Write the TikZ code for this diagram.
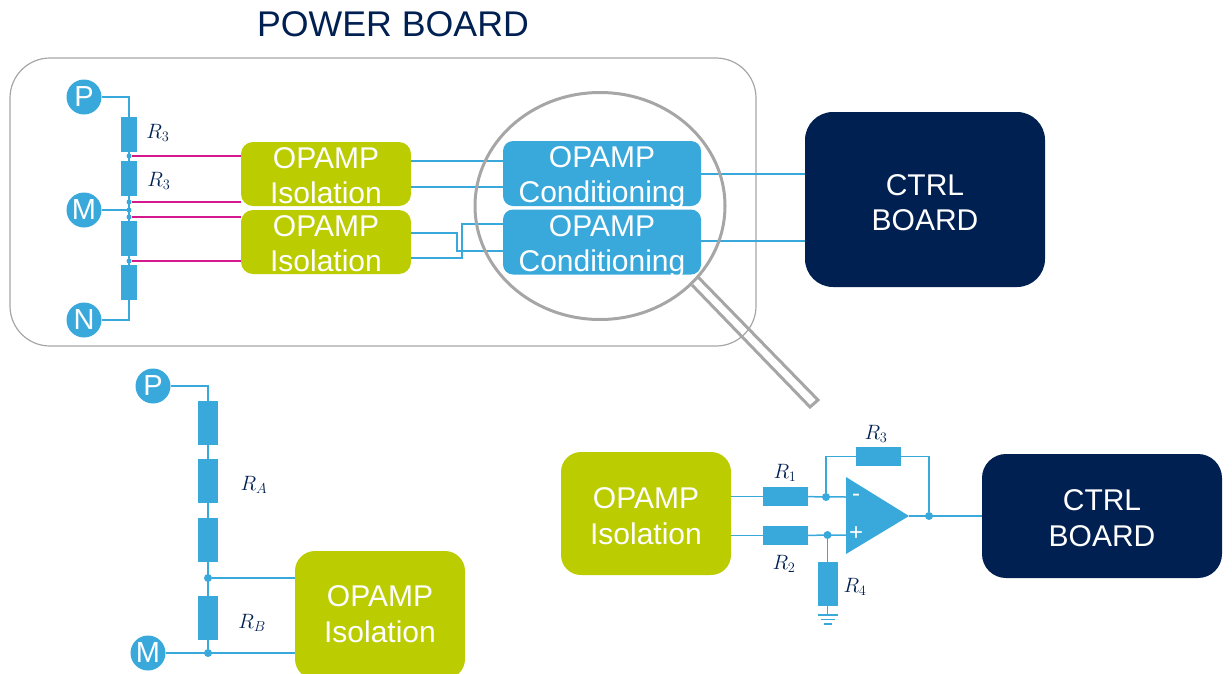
\documentclass[tikz,border=0pt]{standalone}
\usepackage{fontspec}
\setmainfont{Liberation Sans}
\usepackage{xcolor}
\usetikzlibrary{positioning, shapes.geometric}

\definecolor{navy}{HTML}{002052}
\definecolor{stblue}{HTML}{39A9DC}
\definecolor{stgreen}{HTML}{BBCC00}
\definecolor{stpink}{HTML}{D6188E}
\definecolor{rim}{HTML}{A6A6A6}

\begin{document}
\begin{tikzpicture}[ x = 1pt, y = -1pt
                     , inner sep = 0pt, outer sep = 0pt
                     , node distance = 9pt
                     , wire/.style = { draw = stblue, line width = 1.5pt }
                     , sense/.style = { draw = stpink, line width = 1.5pt }
                     , labelbox/.style = { rounded corners = 12pt, align = center, text = white
                                         , font = \fontsize{30}{35}\selectfont }
                     , isolation/.style = { labelbox, fill = stgreen, minimum width = 170pt, minimum height = 64pt
                                          , text height = 58pt, text depth = 0pt }
                     , conditioning/.style = { labelbox, rounded corners = 10pt, fill = stblue
                                             , minimum width = 198pt, minimum height = 65pt
                                             , text height = 58pt, text depth = 0pt }
                     , ctrl/.style = { labelbox, fill = navy
                                     , text height = 61pt, text depth = 0pt }
                     , terminal/.style = { circle, fill = stblue, text = white, minimum size = 35pt
                                         , font = \fontsize{29}{29}\selectfont }
                     , resv/.style = { fill = stblue, minimum width = 16pt, minimum height = 35pt }
                     , resbig/.style = { fill = stblue, minimum width = 20pt, minimum height = 44pt }
                     , resh/.style = { fill = stblue, minimum width = 45pt, minimum height = 19pt }
                     , joint/.style = { circle, fill = stblue, minimum size = 5pt }
                     , jointbig/.style = { circle, fill = stblue, minimum size = 8pt }
                     , rname/.style = { text = navy, font = \fontsize{21}{21}\selectfont }
                     ]

  \clip (0,0) rectangle (1232,673);
  \useasboundingbox (0,0) rectangle (1232,673);

  \node (title) at (393,24) [text = navy, font = \fontsize{35.7}{36}\selectfont] {POWER BOARD};
  \node (board) at (383,202) [draw = rim, line width = 1.2pt, rounded corners = 40pt
                              , minimum width = 746pt, minimum height = 288pt] {};

  % divider on the power board
  \node (p) at (84,97) [terminal] {P};
  \node (m) at (84,210) [terminal] {M};
  \node (n) at (84,320) [terminal] {N};
  \node (r1) at (129,134.5) [resv] {};
  \node (r2) [resv, below = of r1] {};
  \node (r3) at (129,238) [resv] {};
  \node (r4) [resv, below = of r3] {};
  \node (j1) at (129,156) [joint] {};
  \node (j2) at (129,202) [joint] {};
  \node (j3) at (129,210) [joint] {};
  \node (j4) at (129,217) [joint] {};
  \node (j5) at (129,261) [joint] {};
  \node (rn1) at (158,133) [rname] {$R_3$};
  \node (rn2) at (159,181) [rname] {$R_3$};

  \node (iso1) at (326,174) [isolation] {OPAMP\\Isolation};
  \node (iso2) at (326,242) [isolation] {OPAMP\\Isolation};
  \node (cond1) at (602,173.5) [conditioning] {OPAMP\\Conditioning};
  \node (cond2) at (602,242) [conditioning] {OPAMP\\Conditioning};
  \node (ctrl1) at (925,199.5) [ctrl, rounded corners = 28pt, minimum width = 240pt, minimum height = 175pt] {CTRL\\BOARD};

  \draw[wire] (p) -| (r1);
  \draw[wire] (r1) -- (r2);
  \draw[wire] (r2) -- (r3);
  \draw[wire] (r3) -- (r4);
  \draw[wire] (n) -| (r4);
  \draw[wire] (m) -- (j3);

  \draw[sense] (j1) -- (j1 -| iso1.west);
  \draw[sense] (j2) -- (j2 -| iso1.west);
  \draw[sense] (j4) -- (j4 -| iso2.west);
  \draw[sense] (j5) -- (j5 -| iso2.west);

  \draw[wire] (iso1.east |- 0,161) -- (cond1.west |- 0,161);
  \draw[wire] (iso1.east |- 0,187) -- (cond1.west |- 0,187);
  \draw[wire] (iso2.east |- 0,233) -- (457,233) -- (457,251) -- (cond2.west |- 0,251);
  \draw[wire] (iso2.east |- 0,258) -- (462,258) -- (462,224) -- (cond2.west |- 0,224);
  \draw[wire] (cond1.east |- 0,174) -- (ctrl1.west |- 0,174);
  \draw[wire] (cond2.east |- 0,241) -- (ctrl1.west |- 0,241);

  % magnifier
  \node (lens) at (600,206) [ellipse, draw = rim, line width = 3pt, minimum width = 250pt, minimum height = 227pt] {};
  \coordinate (h1) at (692,285);
  \coordinate (h2) at (810,407);
  \coordinate (h3) at (818,400);
  \coordinate (h4) at (698,277);
  \draw[draw = rim, line width = 3pt, line join = miter] (h1) -- (h2) -- (h3) -- (h4);

  % divider below
  \node (pb) at (153,386) [terminal] {P};
  \node (mb) at (148,653) [terminal] {M};
  \node (ra1) at (208,422.5) [resbig] {};
  \node (ra2) at (208,481) [resbig] {};
  \node (ra3) at (208,539.5) [resbig] {};
  \node (rb) at (208,618) [resbig] {};
  \node (jb1) at (208,578) [jointbig] {};
  \node (jb2) at (208,653) [jointbig] {};
  \node (rna) at (254,485) [rname] {$R_A$};
  \node (rnb) at (252,623) [rname] {$R_B$};
  \node (isob) at (380,615) [isolation, rounded corners = 20pt, minimum height = 128pt
                             , font = \fontsize{30}{36}\selectfont, text height = 55pt] {OPAMP\\Isolation};

  \draw[wire] (pb) -| (ra1);
  \draw[wire] (ra1) -- (ra2);
  \draw[wire] (ra2) -- (ra3);
  \draw[wire] (ra3) -- (rb);
  \draw[wire] (rb) -- (jb2);
  \draw[wire] (jb1) -- (jb1 -| isob.west);
  \draw[wire] (mb) -- (jb2 -| isob.west);

  % amplifier stage
  \node (isoc) at (646,513.5) [isolation, rounded corners = 20pt, minimum height = 123pt
                               , font = \fontsize{30}{36}\selectfont, text height = 62pt] {OPAMP\\Isolation};
  \node (ctrl2) at (1102,516) [ctrl, rounded corners = 24pt, minimum width = 240pt, minimum height = 124pt
                               , font = \fontsize{30}{36}\selectfont, text height = 60pt] {CTRL\\BOARD};
  \node (rf1) at (785.5,496.5) [resh] {};
  \node (rf2) at (785.5,535.5) [resh] {};
  \node (rf3) at (878,456.5) [resh] {};
  \node (rf4) at (827.5,584) [resbig, minimum height = 44pt] {};

  \coordinate (ampa) at (846,477);
  \coordinate (ampb) at (846,554);
  \coordinate (ampout) at (909,516);
  \coordinate (ampm) at (846,497);
  \coordinate (ampp) at (846,535);
  \coordinate (gnd) at (827.5,615);
  \fill[stblue] (ampa) -- (ampb) -- (ampout) -- cycle;
  \node (minus) at (856,498) [text = white, font = \fontsize{24}{24}\selectfont] {-};
  \node (plus) at (856,534) [text = white, font = \fontsize{24}{24}\selectfont] {+};

  \node (ja) at (826,497) [jointbig] {};
  \node (jc) at (827.5,535) [jointbig] {};
  \node (jo) at (929,516) [jointbig] {};

  \draw[wire] (isoc.east |- rf1) -- (rf1);
  \draw[wire] (isoc.east |- rf2) -- (rf2);
  \draw[wire] (rf1) -- (ampm);
  \draw[wire] (rf2) -- (ampp);
  \draw[wire] (ja) |- (rf3);
  \draw[wire] (rf3) -| (jo);
  \draw[wire] (ampout) -- (ctrl2.west |- ampout);
  \draw[wire] (jc) -- (rf4);
  \draw[wire] (rf4) -- (gnd);
  \draw[wire] ([xshift = -10pt] gnd) -- ([xshift = 10pt] gnd);
  \draw[wire] ([xshift = -7pt, yshift = -4.5pt] gnd) -- ([xshift = 7pt, yshift = -4.5pt] gnd);
  \draw[wire] ([xshift = -4pt, yshift = -9pt] gnd) -- ([xshift = 4pt, yshift = -9pt] gnd);

  \node (rn3) at (785,473) [rname] {$R_1$};
  \node (rn4) at (784,564) [rname] {$R_2$};
  \node (rn5) at (876,434) [rname] {$R_3$};
  \node (rn6) at (855,587) [rname] {$R_4$};

\end{tikzpicture}
\end{document}
